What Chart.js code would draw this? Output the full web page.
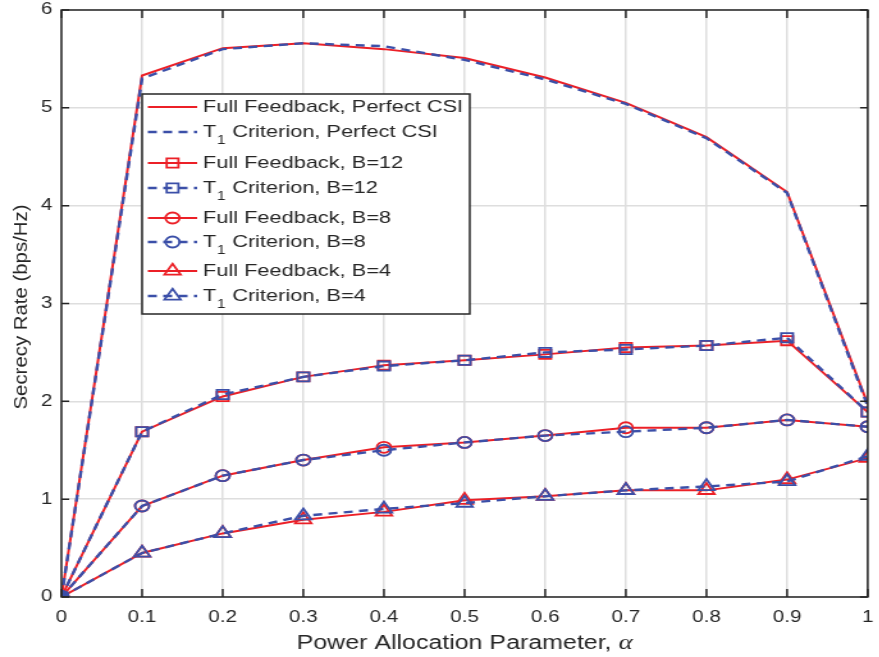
<!DOCTYPE html>
<html>
<head>
<meta charset="utf-8">
<script src="https://cdn.jsdelivr.net/npm/chart.js@4.4.1/dist/chart.umd.min.js"></script>
<style>
  html, body { margin: 0; padding: 0; background: #fff; overflow: hidden; }
  /* the figure is exported wide: draw at 687px and stretch horizontally */
  #wrap { width: 687px; height: 657px; transform: scaleX(1.28); transform-origin: 0 0; }
  #rateChart { width: 687px; height: 657px; }
</style>
</head>
<body>
<div id="wrap"><canvas id="rateChart" width="687" height="657"></canvas></div>
<script>
// power allocation parameter alpha
const alpha = [0, 0.1, 0.2, 0.3, 0.4, 0.5, 0.6, 0.7, 0.8, 0.9, 1];

// secrecy rate (bps/Hz) per scheme
const fullPerfect = [0, 5.33, 5.61, 5.66, 5.60, 5.51, 5.31, 5.05, 4.70, 4.14, 1.97];
const t1Perfect   = [0, 5.30, 5.60, 5.66, 5.63, 5.49, 5.29, 5.04, 4.69, 4.13, 1.95];
const fullB12     = [0, 1.69, 2.05, 2.25, 2.37, 2.42, 2.48, 2.55, 2.57, 2.62, 1.89];
const t1B12       = [0, 1.69, 2.07, 2.25, 2.36, 2.42, 2.50, 2.53, 2.57, 2.65, 1.89];
const fullB8      = [0, 0.93, 1.24, 1.40, 1.53, 1.58, 1.65, 1.73, 1.73, 1.81, 1.74];
const t1B8        = [0, 0.93, 1.24, 1.40, 1.50, 1.58, 1.65, 1.69, 1.73, 1.81, 1.74];
const fullB4      = [0, 0.45, 0.65, 0.79, 0.87, 0.99, 1.03, 1.09, 1.09, 1.20, 1.42];
const t1B4        = [0, 0.45, 0.65, 0.83, 0.90, 0.96, 1.03, 1.09, 1.13, 1.18, 1.44];

const xTicks = [0, 0.1, 0.2, 0.3, 0.4, 0.5, 0.6, 0.7, 0.8, 0.9, 1];
const yTicks = [0, 1, 2, 3, 4, 5, 6];

const legendLabels = [
  'Full Feedback, Perfect CSI',
  'T1 Criterion, Perfect CSI',
  'Full Feedback, B=12',
  'T1 Criterion, B=12',
  'Full Feedback, B=8',
  'T1 Criterion, B=8',
  'Full Feedback, B=4',
  'T1 Criterion, B=4'
];

const RED = '#ec2027';
const BLUE = '#3b4fa8';
const FONT = "'Liberation Sans', Arial, Helvetica, sans-serif";
const TEXT = '#262626';

function series(label, values, color, dashed, marker, radius) {
  return {
    label: label,
    data: values.map((v, i) => ({ x: alpha[i], y: v })),
    borderColor: color,
    backgroundColor: 'rgba(0,0,0,0)',
    borderWidth: dashed ? 2.4 : 2,
    borderDash: dashed ? [7, 5] : [],
    pointStyle: marker || 'circle',
    pointRadius: marker ? radius : 0,
    pointBorderColor: color,
    pointBackgroundColor: 'rgba(0,0,0,0)',
    pointBorderWidth: 1.8,
    fill: false,
    tension: 0
  };
}

const datasets = [
  series(legendLabels[0], fullPerfect, RED, false, null, 0),
  series(legendLabels[1], t1Perfect, BLUE, true, null, 0),
  series(legendLabels[2], fullB12, RED, false, 'rect', 6.5),
  series(legendLabels[3], t1B12, BLUE, true, 'rect', 6.5),
  series(legendLabels[4], fullB8, RED, false, 'circle', 5.5),
  series(legendLabels[5], t1B8, BLUE, true, 'circle', 5.5),
  series(legendLabels[6], fullB4, RED, false, 'triangle', 7.3),
  series(legendLabels[7], t1B4, BLUE, true, 'triangle', 7.3)
];
// dashed blue curves are plotted over the red ones
datasets.forEach((d, i) => { d.order = i % 2 === 0 ? 2 : 1; });

// axis box with inward ticks, axis titles and the inset legend
const frame = {
  id: 'frame',
  afterDatasetsDraw(chart) {
    const ctx = chart.ctx;
    const a = chart.chartArea;
    const xs = chart.scales.x, ys = chart.scales.y;
    ctx.save();
    ctx.strokeStyle = '#262626';
    ctx.lineWidth = 1.5;
    ctx.setLineDash([]);
    ctx.strokeRect(a.left, a.top, a.right - a.left, a.bottom - a.top);
    ctx.beginPath();
    xTicks.forEach(t => {
      const px = xs.getPixelForValue(t);
      ctx.moveTo(px, a.bottom); ctx.lineTo(px, a.bottom - 8);
      ctx.moveTo(px, a.top); ctx.lineTo(px, a.top + 8);
    });
    yTicks.forEach(t => {
      const py = ys.getPixelForValue(t);
      ctx.moveTo(a.left, py); ctx.lineTo(a.left + 6, py);
      ctx.moveTo(a.right, py); ctx.lineTo(a.right - 6, py);
    });
    ctx.stroke();

    ctx.fillStyle = TEXT;
    ctx.textAlign = 'left';
    ctx.textBaseline = 'alphabetic';

    // x axis title
    const part1 = 'Power Allocation Parameter, ';
    const sansX = '19.5px ' + FONT;
    const serifX = 'italic 21px "Liberation Serif", "DejaVu Serif", serif';
    ctx.font = sansX;
    const w1 = ctx.measureText(part1).width;
    ctx.font = serifX;
    const w2 = ctx.measureText('\u03b1').width;
    const tx = (a.left + a.right) / 2 - (w1 + w2) / 2;
    ctx.font = sansX;
    ctx.fillText(part1, tx, 649);
    ctx.font = serifX;
    ctx.fillText('\u03b1', tx + w1, 649);

    // y axis title, read bottom to top
    const yTitle = 'Secrecy Rate (bps/Hz)';
    ctx.font = '15px ' + FONT;
    const wy = ctx.measureText(yTitle).width;
    ctx.save();
    ctx.translate(21, 307);
    ctx.rotate(-Math.PI / 2);
    ctx.scale(205 / wy, 1);
    ctx.textAlign = 'center';
    ctx.fillText(yTitle, 0, 0);
    ctx.restore();

    // legend
    const box = { x: 111, y: 94, w: 256, h: 220 };
    ctx.fillStyle = '#fff';
    ctx.fillRect(box.x, box.y, box.w, box.h);
    ctx.strokeStyle = '#262626';
    ctx.lineWidth = 1.5;
    ctx.strokeRect(box.x, box.y, box.w, box.h);
    const rowY = [107, 132, 163, 188, 218, 242, 271, 296];
    const x0 = 115.5, x1 = 154, xm = 134.8, textX = 158.6;
    datasets.forEach((d, i) => {
      const y = rowY[i];
      ctx.strokeStyle = d.borderColor;
      ctx.lineWidth = d.borderWidth;
      ctx.setLineDash(d.borderDash);
      ctx.beginPath();
      ctx.moveTo(x0, y); ctx.lineTo(x1, y);
      ctx.stroke();
      ctx.setLineDash([]);
      if (d.pointRadius > 0) {
        ctx.fillStyle = 'rgba(0,0,0,0)';
        ctx.lineWidth = d.pointBorderWidth;
        Chart.helpers.drawPoint(ctx, {
          pointStyle: d.pointStyle, radius: d.pointRadius, rotation: 0,
          borderWidth: d.pointBorderWidth
        }, xm, y);
      }
      ctx.fillStyle = TEXT;
      ctx.textBaseline = 'middle';
      const label = legendLabels[i];
      ctx.font = '17px ' + FONT;
      if (label.startsWith('T1')) {
        ctx.fillText('T', textX, y);
        const wt = ctx.measureText('T').width;
        ctx.font = '12px ' + FONT;
        ctx.fillText('1', textX + wt + 0.5, y + 9);
        const ws = ctx.measureText('1').width;
        ctx.font = '17px ' + FONT;
        ctx.fillText(label.slice(2), textX + wt + ws + 1, y);
      } else {
        ctx.fillText(label, textX, y);
      }
    });
    ctx.restore();
  }
};

new Chart(document.getElementById('rateChart'), {
  type: 'line',
  data: { datasets: datasets },
  options: {
    responsive: false,
    animation: false,
    events: [],
    layout: { padding: { top: 10, right: 3, left: 0, bottom: 0 } },
    plugins: { legend: { display: false }, tooltip: { enabled: false } },
    scales: {
      x: {
        type: 'linear', min: 0, max: 1,
        afterFit: s => { s.height = 60; s.paddingLeft = 0; s.paddingRight = 0; },
        afterBuildTicks: s => { s.ticks = xTicks.map(v => ({ value: v })); },
        ticks: {
          padding: 11, color: TEXT, maxRotation: 0, autoSkip: false,
          font: { family: FONT, size: 16 },
          callback: v => String(Number(v.toFixed(1)))
        },
        grid: { color: '#dedede', lineWidth: 1.5, drawTicks: false },
        border: { display: false }
      },
      y: {
        min: 0, max: 6,
        afterFit: s => { s.width = 48; s.paddingTop = 0; s.paddingBottom = 0; },
        afterBuildTicks: s => { s.ticks = yTicks.map(v => ({ value: v })); },
        ticks: {
          padding: 7, color: TEXT,
          font: { family: FONT, size: 16 }
        },
        grid: { color: '#dedede', lineWidth: 1.5, drawTicks: false },
        border: { display: false }
      }
    }
  },
  plugins: [frame]
});
</script>
</body>
</html>
